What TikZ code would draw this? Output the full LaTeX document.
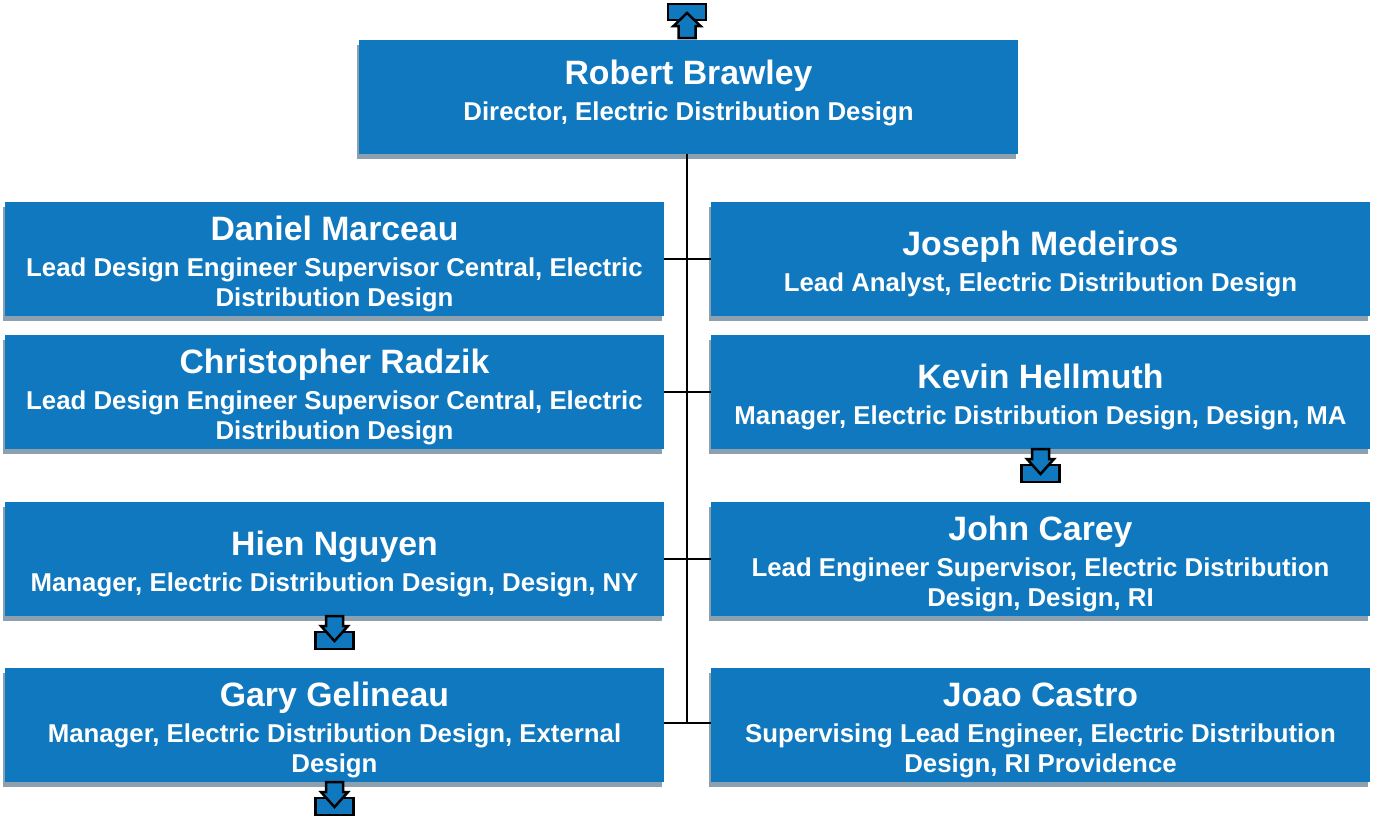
\documentclass[tikz,border=0pt]{standalone}
\usepackage{fontspec}
\setmainfont{Liberation Sans}
\usetikzlibrary{shadows}
\definecolor{boxblue}{RGB}{16,120,190}
\definecolor{boxshade}{RGB}{140,160,176}
\newcommand{\pname}[1]{{\fontsize{33.8}{39}\selectfont\rule{0pt}{34pt}#1}\\[6pt]}
\newcommand{\downicon}[1]{%
  \begin{scope}[shift={(#1)}]
    \draw[icon] (-19,16) rectangle (19,33);
    \draw[icon] (-8.5,0) -- (8.5,0) -- (8.5,10) -- (13.5,10) -- (0,25) -- (-13.5,10) -- (-8.5,10) -- cycle;
  \end{scope}}
\newcommand{\upicon}[1]{%
  \begin{scope}[shift={(#1)}]
    \draw[icon] (-19,-18) rectangle (19,-34);
    \draw[icon] (-8.5,0) -- (8.5,0) -- (8.5,-12) -- (13.5,-12) -- (0,-25) -- (-13.5,-12) -- (-8.5,-12) -- cycle;
  \end{scope}}
\tikzset{
  person/.style={fill=boxblue, text=white, font=\bfseries\fontsize{25.8}{30}\selectfont,
    align=center, minimum width=659pt, minimum height=114pt, inner sep=0pt, outer sep=0pt,
    general shadow={fill=boxshade, shadow xshift=-2.5pt, shadow yshift=-5pt}},
  link/.style={line width=2pt},
  icon/.style={fill=boxblue, draw=black, line width=2.5pt, line join=miter},
}
\begin{document}
\begin{tikzpicture}[x=1pt,y=-1pt]
  \useasboundingbox (0,0) rectangle (1373,817);

  % top
  \node[person] (robert) at (688.5,96.5) {\pname{Robert Brawley}Director, Electric Distribution Design\rule[-22pt]{0pt}{1pt}};

  % left column
  \node[person] (daniel) at (334.5,259) {\pname{Daniel Marceau}Lead Design Engineer Supervisor Central, Electric\\Distribution Design};
  \node[person] (christopher) at (334.5,392) {\pname{Christopher Radzik}Lead Design Engineer Supervisor Central, Electric\\Distribution Design};
  \node[person] (hien) at (334.5,559) {\pname{Hien Nguyen}Manager, Electric Distribution Design, Design, NY};
  \node[person] (gary) at (334.5,725) {\pname{Gary Gelineau}Manager, Electric Distribution Design, External\\Design};

  % right column
  \node[person] (joseph) at (1040.5,259) {\pname{Joseph Medeiros}Lead Analyst, Electric Distribution Design};
  \node[person] (kevin) at (1040.5,392) {\pname{Kevin Hellmuth}Manager, Electric Distribution Design, Design, MA};
  \node[person] (john) at (1040.5,559) {\pname{John Carey}Lead Engineer Supervisor, Electric Distribution\\Design, Design, RI};
  \node[person] (joao) at (1040.5,725) {\pname{Joao Castro}Supervising Lead Engineer, Electric Distribution\\Design, RI Providence};

  % connectors
  \draw[link] (robert.south -| 687,0) -- (687,723);
  \draw[link] (daniel.east) -- (joseph.west);
  \draw[link] (christopher.east) -- (kevin.west);
  \draw[link] (hien.east) -- (john.west);
  \draw[link] (gary.east) ++(0,-2) -- (joao.west |- 0,723);

  % expand marks
  \upicon{687,38}
  \downicon{kevin.south}
  \downicon{hien.south}
  \downicon{gary.south}
\end{tikzpicture}
\end{document}
